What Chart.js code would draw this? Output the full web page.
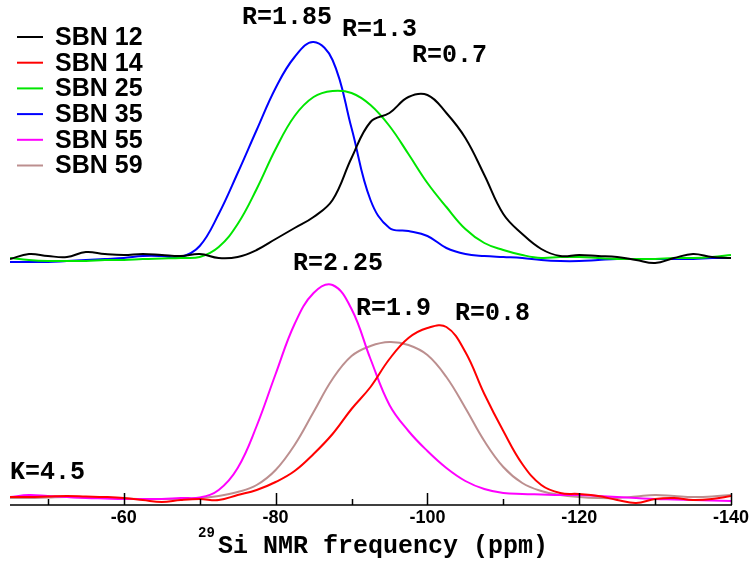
<!DOCTYPE html>
<html>
<head>
<meta charset="utf-8">
<script src="https://cdn.jsdelivr.net/npm/chart.js@4.4.0/dist/chart.umd.min.js"></script>
<style>
  html, body { margin: 0; padding: 0; background: #fff; }
  #wrap { width: 751px; height: 565px; position: relative; }
</style>
</head>
<body>
<div id="wrap"><canvas id="nmr"></canvas></div>
<script>
// chemical shift grid (ppm)
const ppm = [-45, -47.5, -50, -52.5, -55, -57.5, -60, -62.5, -65, -67.5, -70, -72.5, -75, -77.5, -80,
  -82.5, -85, -87.5, -90, -92.5, -95, -97.5, -100, -102.5, -105, -107.5, -110, -112.5, -115, -117.5,
  -120, -122.5, -125, -127.5, -130, -132.5, -135, -137.5, -140];

// intensities above each spectrum's own baseline
const sbn12 = [1, 6, 4, 3, 8, 6, 5, 6, 5, 4, 6, 2, 3, 10, 21, 32, 43, 60, 102, 138,
  147, 163, 165, 147, 122, 85, 46, 26, 11, 4, 5, 4, 3, 0, -3, 2, 6, 3, 2];
const sbn14 = [1, 1, 1.5, 2, 1.5, 1, 0, -2, -4, -2, -1, -2, 3, 8, 16, 27, 44, 64, 89, 111,
  139, 160, 170, 171, 146, 104, 67, 34, 13, 5, 4, 2, -2, -5, -1, 0, -2, -1, 2];
const sbn25 = [2, 0, -1, -1, -1, 0, 0, 1, 1.5, 2, 3, 13, 36, 71, 111, 144, 163, 169, 167, 155,
  134, 106, 77, 53, 31, 17, 10, 5, 2, 3, 3, 2, 1, 1, 1, 2, 2, 3, 5];
const sbn35 = [-2, -2, -2, -1, 0, 1, 2, 4, 4, 3, 14, 46, 87, 130, 172, 203, 218, 200, 132, 60,
  32, 29, 24, 12, 6, 4, 3, 2, 0, -1, -1, 0, 1, 1, 1, 1, 1, 2, 2];
const sbn55 = [1, 3, 2, 1, 0, -0.5, -1, -1, -1, 0, 0.5, 8, 30, 72, 124, 174, 205, 213, 189, 139,
  93, 67, 47, 30, 17, 9, 5, 4, 3.5, 3, 3, 2, 1, 0, -1, -1.5, -2, -2.5, -3];
const sbn59 = [0, 0, 0.5, 1, 0.5, 0, -0.5, -1, -1, -1, 0, 2, 6, 13, 28, 53, 86, 119, 142, 152,
  156, 153, 143, 121, 90, 57, 31, 15, 7, 3, 1, 0, 0, 1.5, 3, 2, 1, 1.5, 3];

const names = ['SBN 12', 'SBN 14', 'SBN 25', 'SBN 35', 'SBN 55', 'SBN 59'];
const colors = ['#000000', '#ff0000', '#00e600', '#0000ff', '#ff00ff', '#bc8f8f'];
const upper = [true, false, true, true, false, false];   // upper panel or lower
const topShift = 238;

const tickValues = [-50, -60, -70, -80, -90, -100, -110, -120, -130, -140];
const labelValues = [-60, -80, -100, -120, -140];

const notes = [
  { text: 'R=1.85', x: 242, y: 18 },
  { text: 'R=1.3', x: 342, y: 30 },
  { text: 'R=0.7', x: 412, y: 56 },
  { text: 'R=2.25', x: 293, y: 264 },
  { text: 'R=1.9', x: 356, y: 309 },
  { text: 'R=0.8', x: 455, y: 314 },
  { text: 'K=4.5', x: 10, y: 473 }
];

const series = [sbn12, sbn14, sbn25, sbn35, sbn55, sbn59];

const datasets = series.map((vals, i) => ({
  label: names[i],
  data: vals.map((v, k) => ({ x: ppm[k], y: v + (upper[i] ? topShift : 0) })),
  borderColor: colors[i],
  borderWidth: 2,
  pointRadius: 0,
  tension: 0.4,
  fill: false
}));

const decor = {
  id: 'decor',
  afterDraw(chart) {
    const { ctx, chartArea: ca } = chart;
    const xs = chart.scales.x;
    ctx.save();
    ctx.strokeStyle = '#000';
    ctx.lineWidth = 1.5;
    ctx.beginPath();
    ctx.moveTo(ca.left, ca.bottom);
    ctx.lineTo(ca.right + 1, ca.bottom);
    tickValues.forEach(v => {
      const px = Math.round(xs.getPixelForValue(v)) + 0.5;
      const len = labelValues.includes(v) ? 12 : 6;
      ctx.moveTo(px, ca.bottom);
      ctx.lineTo(px, ca.bottom - len);
    });
    ctx.stroke();

    ctx.fillStyle = '#000';
    ctx.textBaseline = 'middle';
    ctx.textAlign = 'left';
    ctx.font = 'bold 25px "Liberation Mono"';
    notes.forEach(n => ctx.fillText(n.text, n.x, n.y));

    // axis title with superscript
    ctx.font = 'bold 14px "Liberation Mono"';
    ctx.fillText('29', 198, 533);
    ctx.font = 'bold 25px "Liberation Mono"';
    ctx.fillText('Si NMR frequency (ppm)', 218, 547);

    // legend
    ctx.font = 'bold 25px "Liberation Sans"';
    names.forEach((nm, i) => {
      const y = 37 + i * 25.7;
      ctx.strokeStyle = colors[i];
      ctx.lineWidth = 2;
      ctx.beginPath();
      ctx.moveTo(17, y);
      ctx.lineTo(43, y);
      ctx.stroke();
      ctx.fillText(nm, 55, y + 1);
    });
    ctx.restore();
  }
};

new Chart(document.getElementById('nmr'), {
  type: 'line',
  data: { datasets },
  options: {
    responsive: true,
    maintainAspectRatio: false,
    animation: false,
    layout: { padding: { left: 10, right: 18, top: 0, bottom: 0 } },
    plugins: { legend: { display: false }, tooltip: { enabled: false } },
    scales: {
      x: {
        type: 'linear',
        reverse: true,
        min: -140,
        max: -45,
        afterBuildTicks: s => { s.ticks = tickValues.map(v => ({ value: v })); },
        afterFit: s => { s.height = 60; },
        grid: { display: false, drawTicks: false },
        border: { display: false },
        ticks: {
          autoSkip: false,
          maxRotation: 0,
          padding: 2,
          color: '#000',
          font: { family: 'Liberation Sans', size: 18, weight: 'bold' },
          callback: v => labelValues.includes(v) ? String(v) : ''
        }
      },
      y: { display: false, min: -7, max: 498 }
    }
  },
  plugins: [decor]
});
</script>
</body>
</html>
